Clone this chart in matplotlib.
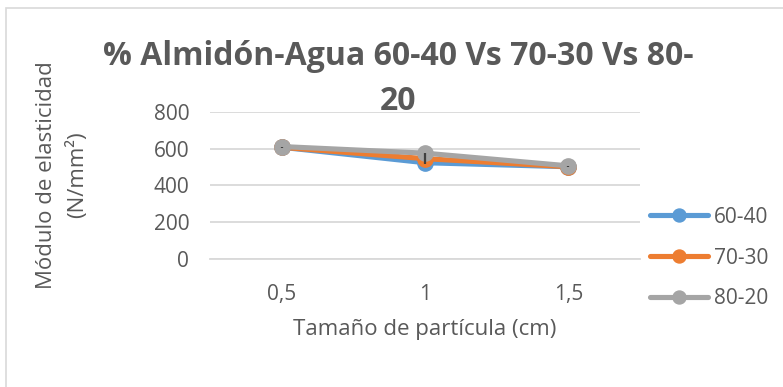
import matplotlib.pyplot as plt
from matplotlib.patches import Rectangle

# data
sizes = ['0,5', '1', '1,5']
s60_40 = [608, 524, 502]
s70_30 = [608, 546, 502]
s80_20 = [612, 576, 507]
err70_30 = [2, 30, 2]
series_names = ['60-40', '70-30', '80-20']
colors = ['#5B9BD5', '#ED7D31', '#A5A5A5']
title_lines = ['% Almidón-Agua 60-40 Vs 70-30 Vs 80-', '20']

plt.rcParams['font.family'] = ['Open Sans', 'DejaVu Sans']
txt = '#595959'
W, H = 783, 387

fig = plt.figure(figsize=(W / 100, H / 100), dpi=100)
fig.patches.append(Rectangle((6 / W, -10 / H), 800 / W, (H - 8 + 10) / H, transform=fig.transFigure,
                             fill=False, edgecolor='#D9D9D9', linewidth=1.2))
ax = fig.add_axes([210 / W, (H - 259) / H, 430 / W, 147 / H])

x = range(len(sizes))
for vals, name, c in zip([s60_40, s70_30, s80_20], series_names, colors):
    ax.plot(x, vals, color=c, linewidth=3.7, marker='o', markersize=11, label=name,
            solid_capstyle='round', solid_joinstyle='round')
ax.errorbar(x, s70_30, yerr=err70_30, fmt='none', ecolor='#404040', elinewidth=1.6, capsize=0, zorder=5)

ax.set_xlim(-0.5, len(sizes) - 0.5)
ax.set_ylim(0, 800)
ax.set_yticks([0, 200, 400, 600, 800])
ax.set_xticks(list(x))
ax.set_xticklabels(sizes)
ax.grid(axis='y', color='#D9D9D9', linewidth=1.3)
ax.set_axisbelow(True)
for s in ['top', 'right', 'left']:
    ax.spines[s].set_visible(False)
ax.spines['bottom'].set_color('#D9D9D9')
ax.spines['bottom'].set_linewidth(1.3)
ax.tick_params(axis='both', length=0, labelsize=15, labelcolor=txt)
ax.tick_params(axis='y', pad=15)
ax.tick_params(axis='x', pad=18)

ax.set_xlabel('Tamaño de partícula (cm)', fontsize=16, color=txt, va='center')
ax.xaxis.set_label_coords(0.5, -(330 - 259) / 147)
fig.text(62 / W, 1 - 175 / H, 'Módulo de elasticidad\n(N/mm²)', rotation=90, fontsize=16,
         color=txt, ha='center', va='center', multialignment='center', linespacing=1.55)

# title wraps onto two lines in the original
for line, base in zip(title_lines, [65, 110]):
    fig.text(398 / W, 1 - base / H, line, fontsize=23, fontweight='bold', color=txt,
             ha='center', va='baseline')

ax.legend(loc='center left', bbox_to_anchor=(650 / W, 1 - 258 / H), bbox_transform=fig.transFigure,
          frameon=False, fontsize=15, labelcolor=txt, handlelength=2.8, labelspacing=0.95,
          handletextpad=0.25, borderpad=0, borderaxespad=0, markerscale=0.85)

fig.savefig('out.png', dpi=100)
